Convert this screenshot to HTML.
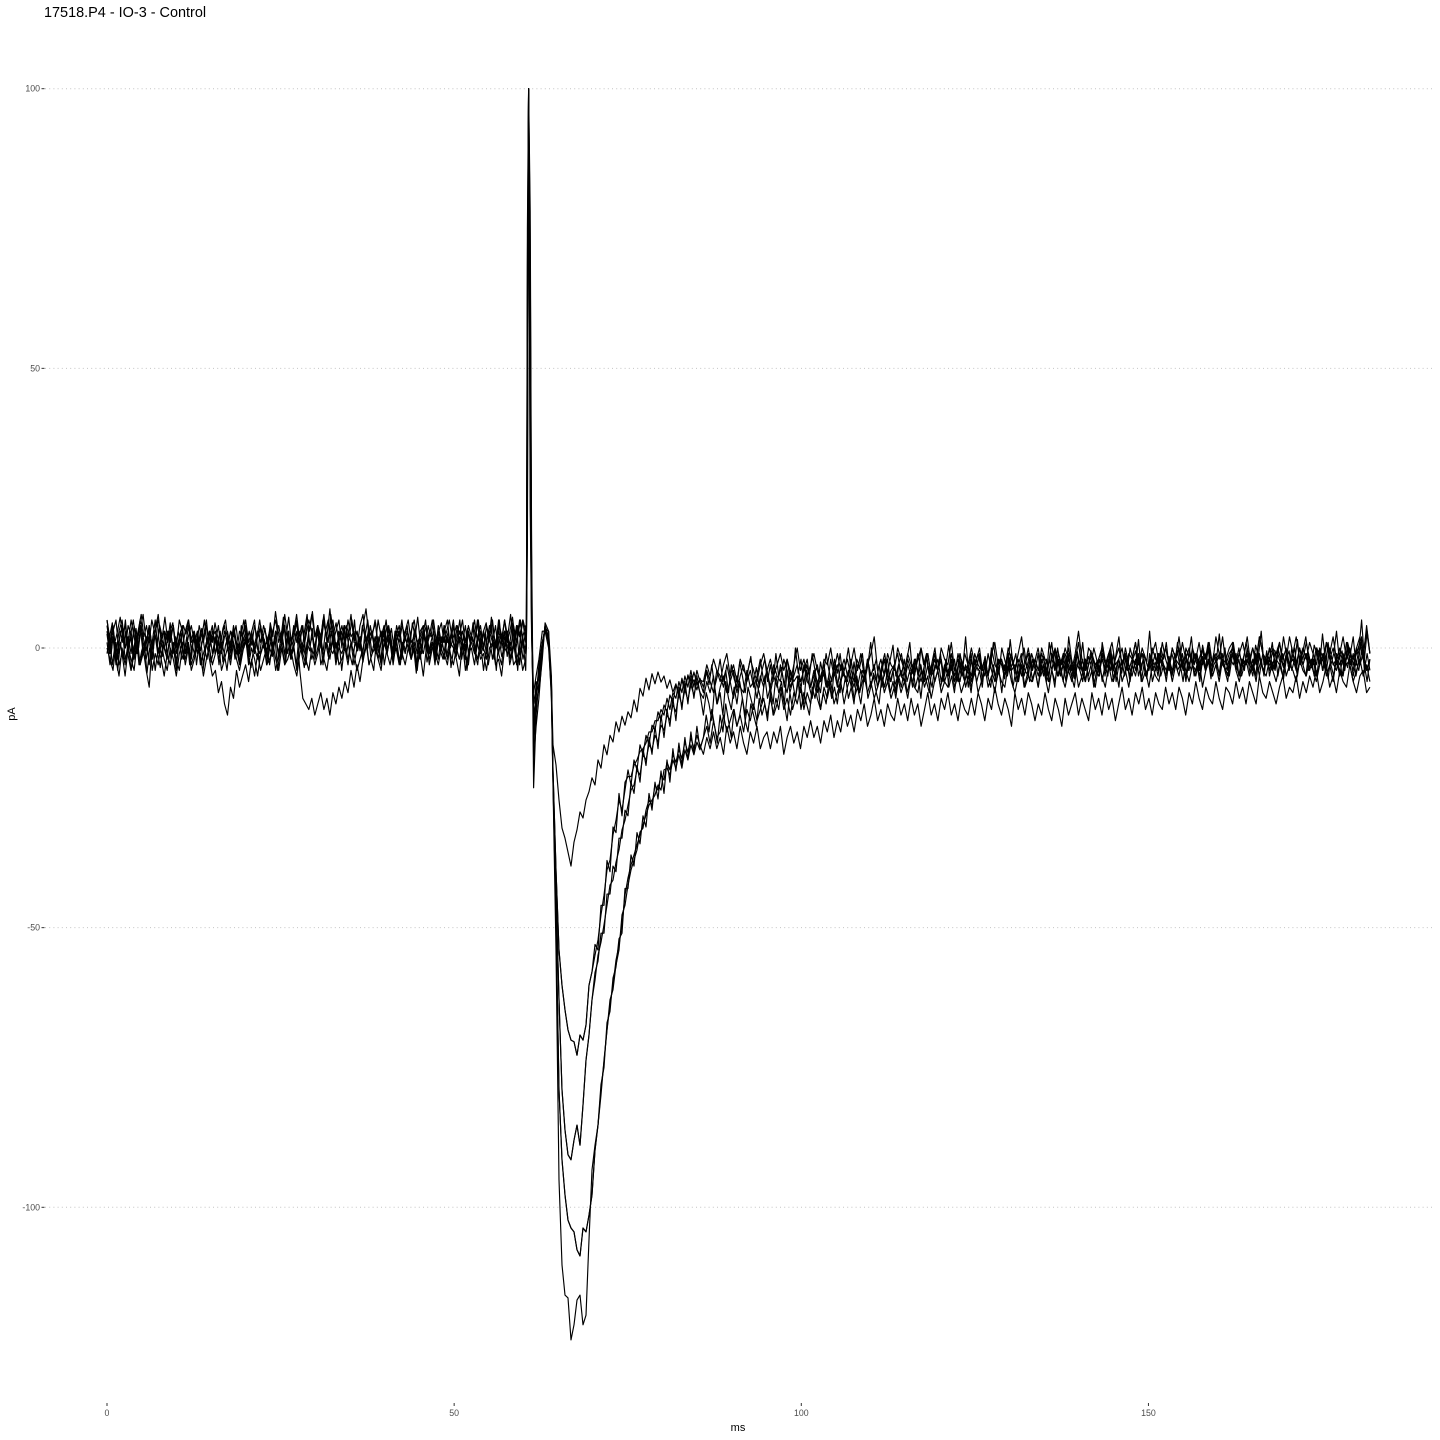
<!DOCTYPE html>
<html>
<head>
<meta charset="utf-8">
<title>17518.P4 - IO-3 - Control</title>
<style>
html,body{margin:0;padding:0;background:#fff;}
svg{display:block;font-family:"Liberation Sans",sans-serif;}
</style>
</head>
<body>
<svg id="chart" xmlns="http://www.w3.org/2000/svg" width="1440" height="1440" viewBox="0 0 1440 1440">
<rect width="1440" height="1440" fill="#fff"/>
<text x="44" y="17" font-size="14.45" fill="#000">17518.P4 - IO-3 - Control</text>
<text x="738" y="1431" font-size="11" text-anchor="middle" fill="#000">ms</text>
<text transform="translate(15 714) rotate(-90)" font-size="11" text-anchor="middle" fill="#000">pA</text>
<g id="grid"></g>
<g id="axes"></g>
<g id="traces"></g>
</svg>
<script>
const xTickLabels=[0,50,100,150];
const yTickLabels=[100,50,0,-50,-100];
const preTimeRange=[0,60.3];
const artifactTimes=[60.4,60.55,60.72,60.95,61.15,61.45,61.8,62.2,62.7,63.1,63.6,64.0];
const fastTimeRange=[64.24,85.4];
const tailTimeRange=[85.9,181.9];

const trace1Pre=[5,1,4,-1,3,5,0,2,-1,4,1,5,2,-0.5,4,0,3,6,1,3,
-1,2,4,0,5,3,-1,2,4,1,3,-0.5,2,5,0,3,1,4,-1,2,
3,0,4,1,-1,2,5,1,3,-0.5,2,4,0,1,3,-1,2,4,1,6,
2,0,3,5,1,4,-1,3,6,2,4,0,5,2,7,1,3,5,0,4,
2,6,1,3,-0.5,4,7,2,3,0,5,2,4,1,3,-1,2,4,0,3,
5,1,2,-1,3,4,0,2,5,1,3,-0.5,4,1,2,5,0,3,1,4,
-1,2,5,1,3,0,4,2,5,0,3,1,5,2,-0.5,4,1,5,2,4];
const trace1Artifact=[3,60,100,72,14,-25,-12,-6,0,4,2,-6];
const trace1Fast=[-17.3,-20.9,-27.2,-32.2,-34,-36.5,-39,-34.7,-32.5,-29.3,-30.4,-27.2,-25.7,-23.2,-24.5,-20,-21.5,-17.3,-19.1,-15.6,-16.8,-13.2,-15,-12.2,-13.8,-11.4,-12.5,-9.3,-11.4,-7.2,-8.6,-5.4,-7.5,-4.6,-6.4,-4.3,-6.1,-5,-7.2,-5.7,-7.9,-6.4,-8.6,-5.4,-7.5,-5,-6.8,-4.3,-6.4,-5.7];
const trace1Tail=[-6,-3,-5,-2,-4,-6,-3,-1,-5,-3,-6,-2,-4,-5,-2,-4,-6,-3,-1,-4,
-2,-5,-3,-1,-4,-2,-6,-3,0,-4,-2,-5,-3,-1,-4,-6,-2,-3,0,-4,
-1,-4,-2,-5,-3,0,-4,-1,-5,-3,-1,2,-4,-2,-5,-1,-3,-4,0,-2,
-4,-1,-3,-5,-2,0,-3,-1,-5,-2,-4,0,-2,-3,1,-4,-2,-5,-1,-3,
0,-3,-1,-4,-2,-5,-1,1,-3,-2,-4,0,-2,-4,-1,2,-3,-1,-4,-2,
-4,0,-2,-3,1,-4,-1,-3,0,-2,-4,-1,3,-2,-4,0,-1,-3,-2,0,
-3,-1,1,-3,-2,0,-4,-1,-2,1,-3,0,-2,-4,-1,1,-3,-2,0,-3,
0,-2,2,-3,-1,-4,0,-2,1,-3,-1,0,-3,2,-1,-3,-2,0,1,-3,
-1,-3,1,-2,0,-3,2,-1,-2,-4,0,-1,1,-3,-2,2,-1,-3,0,-2,
1,-2,-3,0,-1,-4,1,-2,0,-3,-1,2,-2,0,-3,-1,1,-2,4,-1];

const trace2Pre=[3,-1,2,-3,1,4,-2,0,3,-2,1,4,-1,2,-3,1,5,-1,2,0,
-2,3,0,-3,2,4,-1,1,-2,3,0,2,-3,1,3,-1,2,-2,0,3,
1,-2,3,0,-3,2,1,-1,3,0,-2,4,1,-1,2,0,3,-2,1,4,
-1,2,0,3,-4,-9,-10,-11,-9,-12,-10,-8,-11,-9,-12,-8,-10,-7,-9,-6,
-8,-4,-7,-3,-6,-2,0,3,-1,2,-2,1,4,-1,2,-3,1,3,-1,2,
0,-2,3,1,-1,2,4,-1,1,-2,3,0,2,-2,1,4,-1,2,0,-2,
3,1,-1,2,4,0,-2,3,1,4,-1,2,0,3,-2,1,4,-3,2,-1];
const trace2Artifact=[1,45,100,60,8,-12,-9,-3,1,3.5,1,-7];
const trace2Fast=[-21.8,-39.7,-54,-60.3,-64.7,-68.3,-70.1,-70.4,-72.8,-69.2,-70.1,-67.4,-60.3,-57.9,-54.9,-52.2,-47.7,-44.2,-39.7,-37.9,-33.4,-30.8,-27.2,-29,-25.4,-21.8,-24.5,-20,-21.8,-17.3,-19.1,-15.6,-17.3,-13.8,-14.7,-11.4,-12.9,-10.2,-11.4,-8.4,-9.7,-6.6,-8.4,-5.7,-7.9,-4.8,-6.6,-5.7,-7.5,-5.4];
const trace2Tail=[-7,-4,-6,-8,-4,-5,-7,-3,-6,-4,-8,-5,-3,-6,-4,-7,-5,-2,-6,-4,
-7,-3,-5,-6,-2,-4,-7,-5,-3,-6,-4,-2,-7,-5,-3,-6,-4,-7,-2,-5,
-3,-6,-4,-2,-5,-7,-3,-4,-6,-2,-5,-3,-7,-4,-2,-5,-6,-3,-1,-5,
-6,-3,-5,-2,-4,-6,-3,-1,-5,-4,-2,-6,-3,-5,-1,-4,-6,-2,-4,-3,
-6,-2,-4,-3,-5,-1,-4,-6,-2,-3,-5,-1,-4,-3,-6,-2,-4,-5,-1,-3,
-5,-2,-4,-6,-1,-3,-5,-2,-4,0,-3,-5,-2,-4,-6,-3,-1,-4,-5,-2,
-4,-1,-3,-5,-2,-4,0,-3,-5,-2,-3,-1,-5,-3,-2,-4,-1,-3,-5,-2,
-4,-2,0,-3,-5,-1,-3,-4,-2,0,-4,-2,-5,-3,-1,-3,-4,-2,0,-3,
-5,-2,-3,-1,-4,-2,-5,-1,-3,0,-4,-2,-3,-5,-1,-3,-2,-4,0,-3,
-1,-4,-2,-5,-3,-1,-4,0,-3,-2,-5,-1,-3,-2,-4,0,-3,-1,-4,-2];

const trace3Pre=[1,-3,2,-2,-5,0,-3,1,-4,-1,2,-3,0,-4,-7,1,-4,0,-2,-5,
-1,-3,1,-2,-4,0,-2,1,-3,-1,2,-3,-1,1,-2,-5,-4,-8,-6,-10,
-12,-7,-9,-4,-7,-5,-3,-6,-2,-5,-1,-4,-2,0,-3,1,-2,-4,0,-3,
2,-2,0,-4,1,-1,-3,2,-2,0,3,-3,-1,1,-2,2,-3,0,-1,1,
-2,1,-3,0,2,-2,1,-3,-1,2,0,-3,1,-1,2,-2,0,-3,1,-1,
2,-2,0,-4,1,-1,2,-3,0,1,-2,2,-1,-3,1,0,-2,-5,1,-1,
-3,2,0,-2,1,-4,0,2,-2,1,-1,-3,2,0,-2,1,-3,-1,2,-4];
const trace3Artifact=[2,52,100,50,6,-16,-6,-8,-2,4.5,3,-5];
const trace3Fast=[-22.7,-43.3,-62.9,-79,-86.2,-90.6,-91.5,-88,-85.3,-88.9,-81.7,-73.7,-69.2,-62.9,-59.4,-54.9,-52.6,-49.5,-46,-42.4,-41.5,-38.3,-36.1,-32.5,-30.8,-28.1,-25.4,-24.5,-21.8,-22.7,-19.1,-20,-17.3,-18.2,-15.6,-16.8,-13.8,-14.7,-12,-12.9,-10.2,-11.4,-8.4,-10.2,-7.5,-9.3,-6.6,-8.4,-6.1,-7.9];
const trace3Tail=[-9,-6,-8,-5,-10,-7,-5,-8,-6,-9,-5,-7,-8,-4,-7,-6,-9,-5,-7,-4,
-8,-5,-7,-3,-6,-8,-4,-6,-5,-8,-3,-6,-7,-4,-8,-5,-3,-7,-6,-4,
-7,-3,-5,-6,-2,-5,-7,-4,-6,-2,-5,-3,-7,-5,-2,-6,-4,-3,-6,-4,
-6,-2,-4,-5,-1,-4,-6,-3,-5,-1,-4,-2,-6,-4,-3,-5,-1,-4,-6,-3,
-5,-1,-3,-4,-2,-5,0,-3,-4,-2,-5,-3,-1,-4,-2,-5,-3,0,-4,-2,
-4,-1,-3,-5,-2,0,-3,-4,-1,-3,-5,-2,1,-4,-2,-3,-1,-4,-2,0,
-3,-1,-4,-2,0,-3,-1,-4,-2,1,-3,-1,-2,-4,0,-2,-3,1,-2,-4,
0,-2,-3,1,-2,0,-3,-1,-4,0,-2,1,-3,-1,-2,2,-3,-1,0,-3,
-1,1,-2,-3,0,-2,2,-1,-3,0,-1,-3,1,-2,0,-3,-1,2,-2,0,
-2,1,-1,-3,0,-2,1,-1,2,-2,0,-3,1,-1,-2,0,2,-1,3,-1];

const trace4Pre=[0,-2,-4,1,-3,-1,-5,0,-2,-4,1,-3,-1,-2,2,-4,-1,-3,1,-2,
-4,0,-2,-5,-1,1,-3,0,-4,-2,1,-1,-5,-2,0,-3,-1,1,-4,-2,
0,-3,1,-2,-4,-1,2,-3,0,-2,-5,-1,1,-3,-2,0,-4,-1,1,-3,
-2,0,-3,-5,-1,1,-2,-4,0,-3,-1,2,-2,-4,0,-1,1,-3,-2,0,
-3,1,-1,-4,-2,0,2,-3,-1,0,-2,-4,1,-1,-3,0,2,-2,-1,-3,
0,-2,1,-3,-1,-5,0,-2,1,-1,-3,0,-2,2,-1,-3,0,-2,1,-4,
-1,0,-3,1,-2,-1,-4,0,1,-3,-2,-5,0,-1,1,-3,-2,0,-4,-2];
const trace4Artifact=[0,35,100,40,4,-8,-5,-2,3,3,0,-8];
const trace4Fast=[-23.6,-48.6,-79,-91.5,-97.8,-102.3,-103.7,-104.4,-107.6,-108.7,-103.7,-104.4,-101.4,-97.8,-89.8,-85.3,-79,-74,-68.3,-63.8,-60.3,-55.8,-53.1,-49.5,-44.2,-41.1,-38.8,-37,-35.2,-33.4,-31.6,-29.9,-28.1,-27.2,-26.3,-24.5,-25.4,-21.8,-21.5,-22.7,-20,-21.5,-19.1,-21.5,-18.2,-20,-17.3,-19.1,-16.8,-18.2];
const trace4Tail=[-16,-14,-17,-13,-16,-15,-12,-15,-13,-11,-14,-12,-15,-11,-13,-10,-13,-11,-9,-12,
-9,-12,-10,-7,-11,-9,-12,-8,-10,-7,-11,-8,-10,-6,-9,-11,-7,-9,-6,-10,
-8,-6,-10,-7,-5,-9,-7,-10,-5,-8,-6,-9,-7,-4,-8,-6,-9,-7,-5,-8,
-6,-9,-5,-7,-8,-4,-7,-5,-9,-6,-4,-8,-6,-7,-3,-7,-5,-8,-6,-4,
-7,-4,-8,-6,-3,-7,-5,-8,-4,-6,-7,-3,-6,-8,-5,-3,-7,-5,-6,-4,
-7,-3,-5,-8,-4,-6,-2,-5,-7,-4,-6,-3,-7,-5,-2,-6,-4,-7,-3,-5,
-7,-3,-6,-4,-2,-6,-4,-7,-3,-5,-2,-6,-4,-7,-3,-5,-6,-2,-5,-3,
-6,-3,-5,-1,-4,-6,-3,-5,-2,-7,-4,-2,-5,-3,-6,-2,-4,-5,-1,-4,
-6,-3,-2,-5,-3,-6,-1,-4,-5,-2,-4,-6,-3,-1,-5,-3,-4,-6,-2,-4,
-5,-2,-4,-6,-3,-1,-5,-3,-6,-2,-4,-5,-1,-3,-6,-4,-2,-5,-3,-6];

const trace5Pre=[4,0,3,5,-1,2,4,1,5,2,-1,3,6,1,4,0,3,5,2,0,
3,1,4,-1,2,0,3,5,1,2,-1,3,1,4,0,2,3,-1,2,4,
0,3,1,-1,3,2,4,0,2,-1,3,1,4,2,0,3,5,1,3,-1,
2,0,4,1,3,-1,2,5,3,0,4,2,6,1,3,5,0,2,4,1,
5,2,3,0,4,6,1,3,2,5,0,3,1,4,2,-1,3,1,4,2,
0,3,5,1,2,4,0,3,2,-1,4,1,3,5,0,2,4,1,3,0,
4,2,1,5,-1,3,1,4,2,0,5,1,3,2,6,0,4,2,5,1];
const trace5Artifact=[4,68,100,78,18,-20,-14,-9,-1,4,1,-9];
const trace5Fast=[-24.5,-54,-95.1,-110.3,-115.7,-116.2,-123.7,-121,-116.6,-115.7,-121,-119.3,-105.8,-93.3,-88.9,-85.3,-79.9,-73.7,-68.3,-62.9,-61.1,-56.7,-54,-47.7,-46,-42.4,-39.7,-37.9,-36.1,-32.9,-32.2,-29,-27.2,-28.1,-24.5,-25.4,-22.7,-23.6,-20.4,-21.8,-19.1,-20.4,-18.2,-19.7,-16.8,-18.6,-16.1,-17.9,-15.6,-17.3];
const trace5Tail=[-19,-16,-18,-15,-18,-16,-19,-14,-17,-15,-18,-14,-17,-19,-15,-17,-14,-18,-16,-15,
-18,-15,-17,-14,-19,-16,-14,-17,-15,-18,-14,-16,-13,-16,-14,-17,-13,-15,-12,-16,
-13,-15,-11,-14,-12,-15,-11,-13,-10,-14,-12,-9,-13,-11,-14,-10,-12,-13,-9,-12,
-10,-13,-9,-12,-10,-14,-11,-8,-12,-10,-13,-9,-11,-8,-12,-10,-13,-9,-11,-12,
-9,-12,-8,-10,-13,-9,-11,-7,-10,-12,-9,-11,-14,-8,-11,-9,-12,-8,-10,-13,
-10,-12,-8,-11,-13,-9,-11,-14,-9,-12,-10,-8,-12,-9,-11,-13,-8,-11,-9,-12,
-8,-11,-9,-13,-10,-7,-11,-9,-12,-8,-10,-7,-11,-9,-12,-8,-10,-11,-7,-10,
-8,-11,-7,-9,-12,-8,-10,-6,-9,-11,-7,-9,-10,-6,-9,-11,-7,-8,-10,-6,
-9,-7,-10,-6,-8,-10,-5,-8,-9,-6,-8,-10,-7,-5,-9,-7,-8,-5,-9,-6,
-8,-5,-7,-4,-8,-6,-3,-7,-5,-8,-4,-6,-7,-3,-6,-8,-5,-4,-8,-7];

const trace6Pre=[2.5,-1,4,0.5,-2,3,1,5,-0.5,2,-2,3.5,0,4,-1,1.5,
3,-2,2,5,0,-1.5,3,1,4.5,-1,2,0,3,-2,1,4,
-0.5,2.5,-3,1,3.5,0,-2,2,4,-1,1,3,-2.5,0.5,2,-1,
3.5,1,-2,4,0,2,-1.5,3,5,0,-1,2.5,1,-2,4,0,
3,-1,1.5,5.5,0,3,-2,2,4.5,1,-1,3,6,0.5,2,-1.5,
4,1,-1,3,5,0,2.5,-2,3,1,4,-1,2,0.5,5,-0.5,
2,-2,3,0,4,1.5,-1,2,-2.5,3,0,4,1,-1.5,3,0.5,
-2,2,4,-1,1,3.5,0,-2,2.5,5,-1,1,3,-2,2,0,
4,-1.5,1,3,-0.5,2,5,0,-2,3,1,4,-1,2.5,0,3,
-1,1.5,4,-2,2,5,0,3,-1.5,1,4.5,-1,2,5,0,3];
const trace6Artifact=[1,25,100,30,3,-14,-8,-4,1,3,2,-7];
const trace6Fast=[-21.8,-39.7,-54,-60.3,-64.7,-68.3,-70.1,-70.4,-72.8,-69.2,-70.1,-67.4,-60.3,-57.9,-53,-54,-46,-46,-38,-40,-32,-33,-26,-30,-24,-23,-23,-21,-20,-18.5,-18,-17,-15,-15,-13,-13,-11,-12,-9,-11,-8,-9,-6,-8,-5,-7,-4,-7,-4,-6];
const trace6Tail=[-8,-4,-6.5,-3,-7,-5,-2,-6,-4,-8,-3,-5.5,-7,-2.5,-5,-8,-4,-1.5,-6,-3.5,-7,-4,-2,-6,
-3,-6,-1,-5,-3.5,-7,-2,-4,-6,0,-4.5,-2,-6.5,-3,-5,-1,-4,-7,-2.5,-5,-1,-4,-6,-2,
-4.5,-1,-5,-3,0,-4,-6,-2,-3.5,-1,-5.5,-3,1,-4,-2,-6,-3,-1,-4.5,-2,0.5,-5,-3,-1,
-4,-2,1,-4.5,-2,-5,0,-3,-1,-5,-2.5,0,-4,-1.5,-5,-3,0.5,-4,-2,-5,-1,-3.5,2,-4,
-1,-5,-2,0,-4,-1.5,-5,-3,1,-3,-4.5,0,-2,-4,1.5,-3,-1,-5,-2,0,-3.5,-1,-4,-2,
0,-3,-1.5,-5,1,-2,-4,0,-3,-1,-4.5,2,-2,-4,-0.5,-3,1,-4,-1.5,-3,0,-2,-5,1,
-2,-3.5,0,-4,-1,2,-3,-1.5,-4,0,-2,-3,1.5,-4,-1,-2.5,3,-3,-1,-4,0,-2,1,-3.5,
-1,-3,1,-2,-4,0,-1.5,2,-3,-1,-4,0.5,-2,1,-3.5,-1,-2,2.5,-3,0,-4,-1.5,1,-2.5,
0,-3,-1,2,-2,-4,0.5,-1.5,3,-3,-1,-2,1,-3.5,0,-2,2,-1,-4,0,-2.5,1.5,-3,-0.5,
2,-2,-3.5,0.5,-1,-3,2.5,-2,0,-3,-1,3,-2,-0.5,-3.5,1,-1,2,-3,-0.5,5,-2,3,-1];

const trace7Pre=[-1,2,-3,0.5,-4,1,-2,3,-1.5,-4,0,2,-3,-0.5,1,-4.5,
0,-2,2.5,-1,-3.5,1,-1,3,-2,0,-4,1.5,-2,-0.5,2,-3,
0.5,-1.5,3,-2,-4,0,1.5,-2.5,-0.5,2,-3,1,-1,-4,0.5,2.5,
-2,0,-3,1,3,-1.5,-3.5,0,2,-2,-0.5,1.5,-3,0,
-1.5,2,-4,0,1,-2.5,3,-1,0.5,-3,2,-1,-3.5,1,-0.5,3.5,
-2,0,2,-3,1,-1.5,3,0,-2,1.5,-4,0,2.5,-1,-3,1,
-0.5,2,-2.5,0.5,3,-2,-4,1,-1,2,-3,0,1.5,-2,3,-1,
-3,1,-0.5,2.5,-2,0,-4.5,1.5,-1,3,-2.5,0,1,-3,2,-0.5,
-2,1,3,-3.5,0,-1.5,2,-2,1,-4,0.5,2,-1,-3,1.5,-0.5,
2.5,-3,0,1,-4,2,-1.5,0,3,-3,-1,1.5,-4,2,-2,0.5];
const trace7Artifact=[2,18,100,25,2,-10,-7,-5,0,4,1,-6];
const trace7Fast=[-22.7,-43.3,-62.9,-79,-86.2,-90.6,-91.5,-88,-85.3,-88.9,-81.7,-73.7,-69.2,-62.9,-58,-56,-51,-51,-44,-44,-39,-40,-34,-34,-29,-30,-24,-26,-21,-24,-18,-21,-16,-19,-14,-18,-12,-16,-11,-14,-9,-13,-7,-11,-6,-10,-5,-9,-5,-8];
const trace7Tail=[-12,-8,-10,-13,-7,-10,-8,-12,-6,-9,-11,-7,-10,-6,-9,-12,-7,-9,-11,-6,-8,-10,-5,-9,
-7,-10,-5,-8,-6,-10,-4,-8,-6,-9,-5,-7,-10,-4,-7,-9,-5,-6,-8,-4,-7,-5,-9,-3,
-6,-8,-3,-6,-4,-7,-2.5,-6,-8,-4,-5,-2,-7,-4.5,-6,-3,-7,-4,-2,-6,-4,-8,-3,-5,
-2,-6,-4,-7,-2,-5,-3,-6,-1.5,-5,-7,-3,-4,-1,-6,-3.5,-5,-2,-6,-4,-1,-5,-3,-7,
-2,-5,-3.5,-1,-6,-3,-5,-1.5,-4,-6,-2,-3,-5.5,-1,-4,-2.5,-6,-3,-1,-5,-3,-6,-2,-4,
-1,-5,-3,-6,-2,-4,-0.5,-5,-3,-6,-1.5,-4,-3,-5.5,-1,-4,-2,-6,-3,-0.5,-5,-2.5,-4,-1,
-5,-2,-4,-1,-6,-3,-4.5,-1,-3,-5,-2,-0.5,-5,-3,-2,-5.5,-1,-4,-2.5,-5,-1,-3,-4,-1.5,
-5,-3,-0.5,-4,-2,-6,-2.5,-4,-1,-3,-5,-1.5,-4,-2,-5.5,-1,-3,-4.5,-1,-3.5,-5,-2,-0.5,-4,
-2,-5,-3,-1,-4.5,-2,-5,-1,-3,-4,-0.5,-5,-2.5,-4,-1,-3,-5.5,-2,-0.5,-4,-2,-5,-1.5,-3,
-5,-1,-3.5,-2,-5,-0.5,-4,-2,-5.5,-1.5,-3,-4,-1,-5,-2,-3.5,-1,-5,-2.5,-4,-0.5,-3,-6,-2];

const trace8Pre=[5,2,4.5,1,3,5.5,2,0,4,2.5,5,1,3.5,6,2,4,
1,5,3,0.5,4,2,5.5,1.5,3,4.5,0,3,1,4,2.5,5,
1.5,3,0,4,2,5,0.5,3,1,4.5,2,0,3.5,5,1,3,
2,4,0,2.5,5,1,3,0.5,4,2,5,1.5,3.5,0,4.5,2,
6.5,3,1,4,2,5.5,1,3,6,2,4,1,5,3,6.5,2,
4,0.5,5,3,1,6,2.5,4.5,1,3,0,4,2,5,1.5,3,
0,4,2,5,1,3,4.5,0.5,3,2,5,1,3.5,0,4,2,
5,1,3,0,4.5,2,5.5,1,3,0.5,4,2,5,1.5,3,4.5,
1,3,5,2,0,4,2.5,5,1,3.5,0.5,4.5,2,5,1,3,
4.5,1,5.5,2,0,4,2,5,1,3,5.5,1.5,4,2,5,3];
const trace8Artifact=[3,75,100,65,10,-18,-10,-7,1,3.5,3,-8];
const trace8Fast=[-23.6,-48.6,-79,-91.5,-97.8,-102.3,-103.7,-104.4,-107.6,-108.7,-103.7,-104.4,-101.4,-97.8,-89.8,-85.3,-78,-75,-67,-65,-59,-57,-52,-51,-43,-43,-37,-39,-33,-35,-30,-32,-26,-29,-24,-27,-22,-26,-20,-24,-18,-22,-17,-21,-16,-20,-15,-19,-14,-18];
const trace8Tail=[-16,-12,-15,-11,-14,-17,-12,-15,-10,-13,-16,-11,-14,-12,-9,-13,-15,-10,-12,-14,-9,-12,-10,-13,
-8,-12,-9,-11,-7,-10,-13,-8,-11,-9,-6,-11,-8,-10,-12,-7,-9,-6,-11,-8,-10,-6,-9,-7,
-10,-6,-8,-5,-9,-7,-10,-5,-8,-6,-4,-9,-7,-5,-8,-10,-5,-7,-4,-8,-6,-9,-5,-7,
-4,-8,-6,-3,-7,-5,-9,-4,-6,-8,-3,-6,-4,-7,-5,-2,-7,-5,-8,-4,-6,-3,-7,-5,
-8,-3,-6,-4,-7,-2,-5,-7,-3,-6,-4,-8,-3,-5,-2,-7,-4,-6,-3,-7,-5,-2,-6,-4,
-7,-3,-5,-2,-6,-4,-7,-2,-5,-3,-6,-1,-5,-7,-3,-4,-6,-2,-5,-3,-7,-4,-2,-6,
-3,-5,-1,-6,-4,-7,-2,-5,-3,-6,-2,-4,-1,-6,-3,-5,-2,-6,-4,-1,-5,-3,-6,-2,
-5,-1,-4,-3,-6,-2,-4,-1,-5,-3,-6,-2,-4,0,-5,-3,-2,-5,-1,-4,-6,-2,-3,-1,
-5,-2,-4,0,-3,-5,-1,-4,-2,-5,-1,-3,-4,-0.5,-5,-2,-3.5,-1,-4,-2,0,-4.5,-2,-3,
-1,-4,-2,-5,0,-3,-2,-4,1,-3,-5,-1,-3,-2,-4,0,-3,-1,-5,-2,2,-4,-1,-4];

const tracePre=[trace1Pre,trace2Pre,trace3Pre,trace4Pre,trace5Pre,trace6Pre,trace7Pre,trace8Pre];
const traceArtifact=[trace1Artifact,trace2Artifact,trace3Artifact,trace4Artifact,trace5Artifact,trace6Artifact,trace7Artifact,trace8Artifact];
const traceFast=[trace1Fast,trace2Fast,trace3Fast,trace4Fast,trace5Fast,trace6Fast,trace7Fast,trace8Fast];
const traceTail=[trace1Tail,trace2Tail,trace3Tail,trace4Tail,trace5Tail,trace6Tail,trace7Tail,trace8Tail];

const SVGNS='http://www.w3.org/2000/svg';
function xScale(t){return 107+6.943*t;}
function yScale(v){return 648-5.593*v;}
function spread(range,i,n){return range[0]+(range[1]-range[0])*i/(n-1);}
function svgEl(tag,attrs,parent){
  const el=document.createElementNS(SVGNS,tag);
  for(const k in attrs){el.setAttribute(k,attrs[k]);}
  parent.appendChild(el);
  return el;
}
const gridGroup=document.getElementById('grid');
const axesGroup=document.getElementById('axes');
const tracesGroup=document.getElementById('traces');

yTickLabels.forEach(function(v){
  const y=yScale(v);
  const line=svgEl('line',{x1:45,x2:1434,y1:y,y2:y,stroke:'#c4c4c4','stroke-width':1,'stroke-dasharray':'1 3.2'},gridGroup);
  
  
  const tick=svgEl('line',{x1:41.5,x2:44.5,y1:y,y2:y,stroke:'#333','stroke-width':1},axesGroup);
  
  
  const label=svgEl('text',{x:40,y:y+3,'font-size':8.8,'text-anchor':'end',fill:'#4d4d4d'},axesGroup);
  label.textContent=String(v);
  
  
});
xTickLabels.forEach(function(t){
  const x=xScale(t);
  const tick=svgEl('line',{x1:x,x2:x,y1:1403,y2:1406,stroke:'#333','stroke-width':1},axesGroup);
  
  
  const label=svgEl('text',{x:x,y:1416,'font-size':8.8,'text-anchor':'middle',fill:'#4d4d4d'},axesGroup);
  label.textContent=String(t);
  
  
});
tracePre.forEach(function(pre,k){
  const pts=[];
  pre.forEach(function(v,i){pts.push([spread(preTimeRange,i,pre.length),v]);});
  traceArtifact[k].forEach(function(v,i){pts.push([artifactTimes[i],v]);});
  traceFast[k].forEach(function(v,i){pts.push([spread(fastTimeRange,i,traceFast[k].length),v]);});
  traceTail[k].forEach(function(v,i){pts.push([spread(tailTimeRange,i,traceTail[k].length),v]);});
  const d=pts.map(function(p,i){return (i?'L':'M')+xScale(p[0]).toFixed(1)+' '+yScale(p[1]).toFixed(1);}).join('');
  const path=svgEl('path',{d:d,fill:'none',stroke:'#000','stroke-width':1.15,'stroke-linejoin':'round'},tracesGroup);
  
  
});
</script>
</body>
</html>
